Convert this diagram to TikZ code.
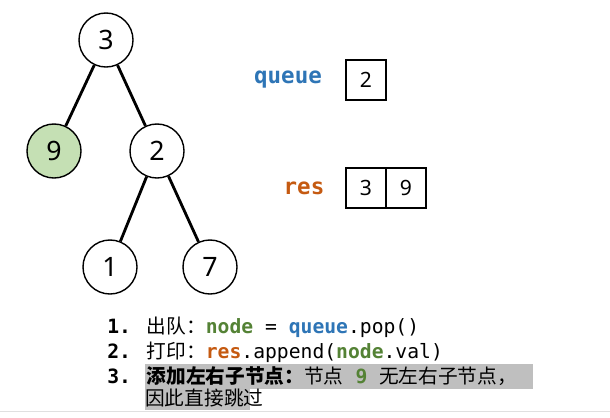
\documentclass[tikz,border=0pt]{standalone}
\usepackage{fontspec}
\setmainfont{Noto Sans}
\newfontfamily\mono{DejaVu Sans Mono}
\newfontfamily\cjk{Noto Sans CJK SC}
\begin{document}
\begin{tikzpicture}[x=0.025cm,y=-0.025cm,
  tn/.style={circle,draw,line width=1pt,minimum size=1.35cm,inner sep=0pt,font=\fontsize{19}{20}\selectfont},
  edge/.style={line width=2pt},
  cell/.style={draw,line width=0.8pt,minimum width=1cm,minimum height=1cm,inner sep=0pt,font=\fontsize{15}{16}\selectfont},
  lbl/.style={font=\mono\bfseries\fontsize{16}{18}\selectfont},
  ln/.style={anchor=base west,font=\mono\fontsize{14}{16}\selectfont,inner sep=0pt}]
\definecolor{qblue}{RGB}{46,117,182}
\definecolor{rorange}{RGB}{197,90,17}
\definecolor{ngreen}{RGB}{84,130,53}
\definecolor{lgreen}{RGB}{197,224,180}
\definecolor{hl}{RGB}{191,191,191}
\useasboundingbox (0,0) rectangle (610,417);
\fill[hl] (145,364) rectangle (533,389);
\fill[hl] (145,389) rectangle (250,410);
\draw[black!12] (0,411) -- (610,411);
\node[tn] (n3) at (106,40) {3};
\node[tn,fill=lgreen] (n9) at (54,151) {9};
\node[tn] (n2) at (157,151) {2};
\node[tn] (n1) at (110,267) {1};
\node[tn] (n7) at (210,267) {7};
\draw[edge] (n3) -- (n9);
\draw[edge] (n3) -- (n2);
\draw[edge] (n2) -- (n1);
\draw[edge] (n2) -- (n7);
\node[lbl,text=qblue] (q) at (288,80) {queue};
\node[cell] (q1) at (366,80) {2};
\node[lbl,text=rorange] (r) at (304,188) {res};
\node[cell] (r1) at (366,188) {3};
\node[cell] (r2) at (406,188) {9};
\node[ln] (l1) at (107,333) {\textbf{1.} {\cjk 出队：}\textcolor{ngreen}{\textbf{node}} = \textcolor{qblue}{\textbf{queue}}.pop()};
\node[ln] (l2) at (107,358) {\textbf{2.} {\cjk 打印：}\textcolor{rorange}{\textbf{res}}.append(\textcolor{ngreen}{\textbf{node}}.val)};
\node[ln] (l3) at (107,383) {\textbf{3.} {\cjk\bfseries 添加左右子节点：}{\cjk 节点} \textcolor{ngreen}{\textbf{9}} {\cjk 无左右子节点，}};
\node[ln] (l4) at (145,405) {{\cjk 因此直接跳过}};
\end{tikzpicture}
\end{document}
